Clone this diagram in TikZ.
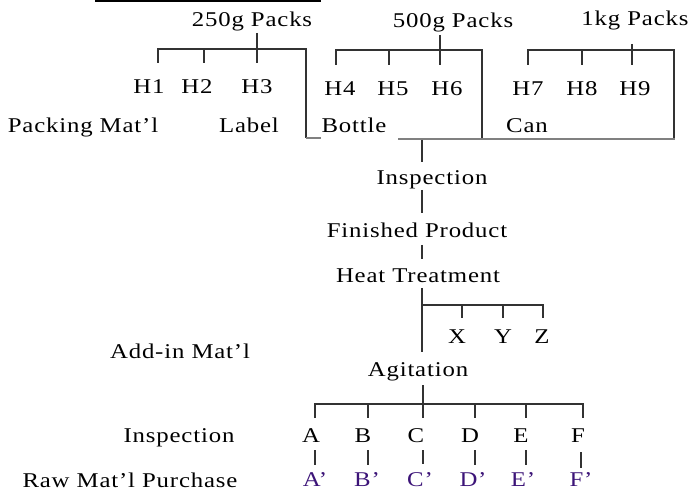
\documentclass[tikz,border=0pt]{standalone}
\usepackage{fontspec}
\setmainfont{Liberation Serif}[LetterSpace=4,FakeStretch=1.18]
\definecolor{primecol}{RGB}{60,20,120}
\definecolor{linecol}{RGB}{50,50,50}
\begin{document}
\begin{tikzpicture}[x=1pt,y=-1pt,
  lbl/.style={anchor=base,inner sep=0pt,font=\fontsize{21}{24}\selectfont},
  prm/.style={lbl,text=primecol},
  ln/.style={draw=linecol,line width=1.1pt},
  gln/.style={draw=gray,line width=1.4pt}]
\useasboundingbox (0,0) rectangle (691,494);
% texts
\node[lbl] (p250) at (252,27) {250g Packs};
\node[lbl] (p500) at (453,28) {500g Packs};
\node[lbl] (p1kg) at (635,26) {1kg Packs};
\node[lbl] (h1) at (149,94) {H1};
\node[lbl] (h2) at (197,94) {H2};
\node[lbl] (h3) at (257,94) {H3};
\node[lbl] (h4) at (340,96) {H4};
\node[lbl] (h5) at (393,96) {H5};
\node[lbl] (h6) at (447,96) {H6};
\node[lbl] (h7) at (528,96) {H7};
\node[lbl] (h8) at (582,96) {H8};
\node[lbl] (h9) at (635,96) {H9};
\node[lbl] (pack) at (83,133) {Packing Mat'l};
\node[lbl] (label) at (249,133) {Label};
\node[lbl] (bottle) at (354,133) {Bottle};
\node[lbl] (can) at (527,133) {Can};
\node[lbl] (insp) at (432,185) {Inspection};
\node[lbl] (fin) at (417,238) {Finished Product};
\node[lbl] (heat) at (418,283) {Heat Treatment};
\node[lbl] (x) at (457,344) {X};
\node[lbl] (y) at (503,344) {Y};
\node[lbl] (z) at (542,344) {Z};
\node[lbl] (addin) at (180,359) {Add-in Mat'l};
\node[lbl] (agit) at (418,377) {Agitation};
\node[lbl] (inspl) at (179,442) {Inspection};
\node[lbl] (a) at (311,442) {A};
\node[lbl] (b) at (363,442) {B};
\node[lbl] (c) at (416,442) {C};
\node[lbl] (d) at (470,442) {D};
\node[lbl] (e) at (521,442) {E};
\node[lbl] (f) at (578,442) {F};
\node[prm] (a2) at (315,486) {A'};
\node[prm] (b2) at (367,486) {B'};
\node[prm] (c2) at (420,486) {C'};
\node[prm] (d2) at (473,486) {D'};
\node[prm] (e2) at (523,486) {E'};
\node[prm] (f2) at (581,486) {F'};
\node[lbl] (raw) at (130,487) {Raw Mat'l Purchase};
% top rule
\draw[line width=2pt] (95,1) -- (321,1);
% 250g bracket
\draw[ln] (257,33) -- (257,63);
\draw[ln] (158,63) -- (158,49) -- (306,49) -- (306,138);
\draw[ln] (204,49) -- (204,63);
\draw[gln] (306,138) -- (321,138);
% 500g bracket
\draw[ln] (440,35) -- (440,65);
\draw[ln] (336,65) -- (336,50) -- (482,50) -- (482,140);
\draw[ln] (389,50) -- (389,65);
% 1kg bracket
\draw[ln] (632,44) -- (632,65);
\draw[ln] (528,65) -- (528,50) -- (674,50) -- (674,140);
\draw[ln] (582,50) -- (582,65);
% bottom bar
\draw[gln] (398,139) -- (675,139);
% spine
\draw[ln] (422,140) -- (422,162);
\draw[ln] (422,190) -- (422,213);
\draw[ln] (422,245) -- (422,259);
\draw[ln] (422,288) -- (422,352);
\draw[ln] (422,305) -- (543,305) -- (543,318);
\draw[ln] (462,305) -- (462,318);
\draw[ln] (503,305) -- (503,318);
% agitation bracket
\draw[ln] (423,385) -- (423,418);
\draw[ln] (315,418) -- (315,404) -- (583,404) -- (583,418);
\draw[ln] (368,404) -- (368,418);
\draw[ln] (475,404) -- (475,418);
\draw[ln] (526,404) -- (526,418);
% second stubs
\draw[ln] (315,450) -- (315,465);
\draw[ln] (368,450) -- (368,465);
\draw[ln] (423,450) -- (423,464);
\draw[ln] (475,450) -- (475,465);
\draw[ln] (526,450) -- (526,465);
\draw[ln] (581,452) -- (581,468);
\end{tikzpicture}
\end{document}
